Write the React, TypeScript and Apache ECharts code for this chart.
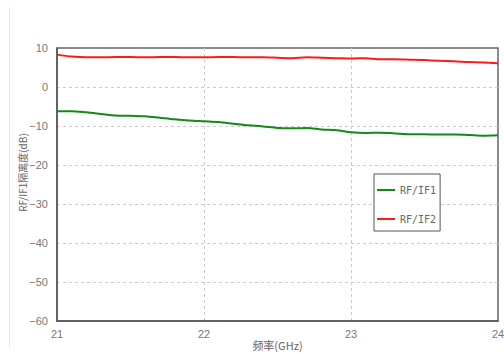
import React, { useEffect, useRef } from "react";
import * as echarts from "echarts";

// Frequency sweep, GHz
const freqs = [
  21.0, 21.1, 21.2, 21.3, 21.4, 21.5, 21.6, 21.7, 21.8, 21.9,
  22.0, 22.1, 22.2, 22.3, 22.4, 22.5, 22.6, 22.7, 22.8, 22.9,
  23.0, 23.1, 23.2, 23.3, 23.4, 23.5, 23.6, 23.7, 23.8, 23.9, 24.0,
];

// Isolation, dB
const rfIf1 = [
  -6.2, -6.2, -6.5, -6.9, -7.3, -7.4, -7.5, -7.9, -8.3, -8.6,
  -8.8, -9.0, -9.4, -9.8, -10.1, -10.5, -10.6, -10.5, -10.9, -11.1,
  -11.6, -11.8, -11.7, -11.9, -12.1, -12.1, -12.2, -12.2, -12.3, -12.5, -12.4,
];
const rfIf2 = [
  8.3, 7.8, 7.6, 7.6, 7.7, 7.7, 7.6, 7.7, 7.7, 7.6,
  7.6, 7.7, 7.7, 7.6, 7.6, 7.5, 7.4, 7.6, 7.5, 7.4,
  7.3, 7.4, 7.1, 7.1, 7.0, 6.9, 6.7, 6.6, 6.4, 6.3, 6.1,
];

const seriesNames = ["RF/IF1", "RF/IF2"];
const xAxisName = "频率(GHz)";
const yAxisName = "RF/IF1隔离度(dB)";

const pairs = (ys: number[]) => freqs.map((f, i) => [f, ys[i]]);
const minus = (v: number) => String(v).replace("-", "\u2212");

export default function App() {
  const ref = useRef<HTMLDivElement>(null);

  useEffect(() => {
    if (!ref.current) return;
    const chart = echarts.init(ref.current, undefined, { renderer: "svg" });
    const tickFont = {
      color: "#777",
      fontSize: 11,
      fontFamily: "Liberation Sans, Arial, sans-serif",
    };
    const dashed = {
      show: true,
      showMinLine: false,
      showMaxLine: false,
      lineStyle: { color: "#ccc", type: [3, 3], width: 1 },
    };
    chart.setOption({
      animation: false,
      backgroundColor: "#fff",
      grid: {
        left: 57,
        right: 6,
        top: 48,
        bottom: 33,
        outerBoundsMode: "none",
        containLabel: false,
        show: true,
        borderColor: "#666",
        borderWidth: 1.5,
        backgroundColor: "transparent",
      },
      legend: {
        orient: "vertical",
        left: 374,
        top: 174,
        data: seriesNames,
        backgroundColor: "#fff",
        borderColor: "#555",
        borderWidth: 1,
        padding: [11, 4, 7, 3],
        itemGap: 19,
        itemWidth: 18,
        itemHeight: 14,
        icon: "path://M0,6 L18,6 L18,8 L0,8 Z",
        textStyle: {
          color: "#666",
          fontSize: 10,
          fontFamily: "DejaVu Sans Mono, monospace",
        },
      },
      graphic: [
        {
          type: "line",
          shape: { x1: 9.5, y1: 7, x2: 9.5, y2: 348 },
          style: { stroke: "#e8e8e8", lineWidth: 1 },
          silent: true,
        },
      ],
      xAxis: {
        type: "value",
        min: 21,
        max: 24,
        interval: 1,
        name: xAxisName,
        nameLocation: "middle",
        nameGap: 18,
        nameMoveOverlap: false,
        nameTextStyle: {
          color: "#666",
          fontSize: 11,
          fontFamily: "Noto Sans CJK SC, sans-serif",
        },
        axisLine: {
          show: true,
          onZero: false,
          lineStyle: { color: "#555", width: 1.5 },
        },
        axisTick: { show: false },
        axisLabel: { ...tickFont, margin: 7, formatter: minus },
        splitLine: dashed,
      },
      yAxis: {
        type: "value",
        min: -60,
        max: 10,
        interval: 10,
        name: yAxisName,
        nameLocation: "middle",
        nameRotate: 90,
        nameGap: 30,
        nameMoveOverlap: false,
        nameTextStyle: {
          color: "#666",
          fontSize: 10,
          fontFamily: "Noto Sans CJK SC, sans-serif",
          padding: [0, 0, 0, 24],
        },
        axisLine: {
          show: true,
          onZero: false,
          lineStyle: { color: "#555", width: 1.5 },
        },
        axisTick: { show: false },
        axisLabel: { ...tickFont, margin: 9, formatter: minus },
        splitLine: dashed,
      },
      series: [
        {
          name: seriesNames[0],
          type: "line",
          data: pairs(rfIf1),
          symbol: "none",
          smooth: 0.3,
          lineStyle: { color: "#138a13", width: 2 },
          itemStyle: { color: "#138a13" },
        },
        {
          name: seriesNames[1],
          type: "line",
          data: pairs(rfIf2),
          symbol: "none",
          smooth: 0.3,
          lineStyle: { color: "#ff1a1a", width: 2 },
          itemStyle: { color: "#ff1a1a" },
        },
      ],
    });
    return () => chart.dispose();
  }, []);

  return (
    <div
      ref={ref}
      style={{ width: 504, height: 354, position: "absolute", left: 0, top: 0 }}
    />
  );
}
